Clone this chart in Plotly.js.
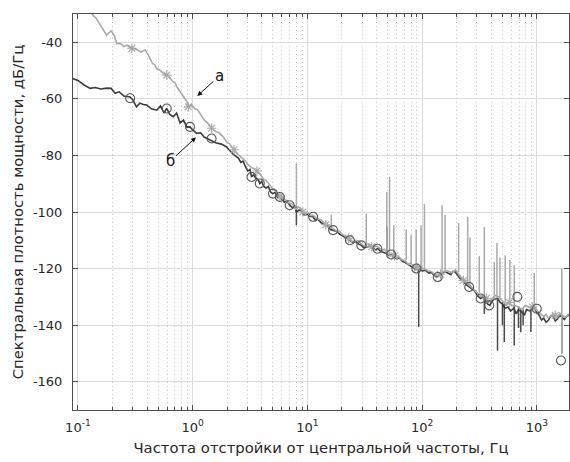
<!DOCTYPE html>
<html>
<head>
<meta charset="utf-8">
<script src="https://cdn.plot.ly/plotly-3.0.1.min.js"></script>
<style>html,body{margin:0;padding:0;background:#fff;}#chart{width:570px;height:462px;}</style>
</head>
<body>
<div id="chart"></div>
<script>
// ---- Data (frequency given as log10(Hz), level in dB/Hz) ----
// Curve "а" (light gray)
const logFreqA = [-1.0,-0.9,-0.876,-0.86,-0.84,-0.8,-0.777,-0.75,-0.734,-0.71,-0.69,-0.68,-0.66,-0.632,-0.6,-0.57,-0.55,-0.53,-0.49,-0.45,-0.415,-0.38,-0.35,-0.33,-0.313,-0.28,-0.25,-0.226,-0.2,-0.17,-0.155,-0.139,-0.11,-0.08,-0.05,-0.038,-0.01,0.02,0.04,0.063,0.1,0.13,0.165,0.2,0.23,0.266,0.3,0.32,0.34,0.383,
  0.40,0.42,0.44,0.46,0.48,0.50,0.52,0.55,0.57,0.585,0.60,0.62,0.64,0.66,0.68,0.70,0.72,0.75,0.77,0.80,0.82,0.85,0.87,0.90,0.92,0.936,0.96,0.98,1.00,1.02,1.05,1.07,1.09,1.12,1.15,1.17,1.19,1.224,1.24,1.26,1.28,1.30,1.33,1.35,1.37,1.40,1.42,1.44,1.47,1.50,1.52,1.54,1.57,1.59,1.615,1.65,1.67,1.69,1.72,1.75,1.77,1.80,1.82,1.85,1.88,1.90,1.917,1.95,1.97,1.99,2.03,2.05,2.08,2.10,2.12,2.15,2.19,2.22,2.24,2.26,2.29,2.31,2.33,2.35,2.37,2.39,2.41,2.44,2.46,2.48,2.51,2.53,2.55,2.58,2.61,2.64,2.67,2.70,2.73,2.76,2.78,2.80,2.84,2.87,2.90,2.94,2.98,3.00,3.02,3.06,3.08,3.10,3.14,3.16,3.18,3.20,3.22,3.25,3.28];
const levelA = [-24,-29,-30.2,-30.8,-31.5,-34,-35.5,-37.5,-36.8,-36,-37.2,-38,-40.5,-40.4,-41.5,-41,-41.8,-42.1,-42.5,-43.5,-42.7,-45,-47.5,-48,-49.2,-50,-51.2,-51.6,-52.5,-54,-54.2,-55.7,-57.5,-59.5,-61,-62.8,-62,-63.5,-63.8,-65.1,-67.5,-68.5,-70.4,-71.5,-72,-73.4,-75.5,-75.8,-77,-79.3,
  -79.8,-80.5,-81.5,-82.0,-83.2,-84.0,-84.5,-85.0,-86.2,-86.4,-87.5,-88.5,-88.8,-90.0,-91.2,-92.0,-92.5,-94.0,-94.2,-95.5,-96.3,-97.0,-97.2,-99.0,-98.2,-98.5,-99.8,-100.5,-100.0,-101.2,-101.2,-101.8,-102.5,-102.8,-104.2,-104.0,-105.0,-105.8,-106.5,-107.0,-106.8,-107.8,-108.5,-109.3,-109.5,-110.6,-110.0,-110.2,-111.3,-112.0,-111.2,-111.5,-112.4,-112.0,-112.3,-113.6,-113.2,-114.2,-115.5,-115.0,-115.8,-116.0,-116.8,-117.2,-118.5,-118.0,-118.8,-119.8,-119.2,-119.5,-120.2,-120.8,-121.0,-121.8,-122.5,-121.8,-121.0,-120.8,-121.2,-121.5,-120.5,-121.5,-122.5,-123.2,-124.5,-125.0,-125.8,-127.0,-127.5,-128.5,-129.8,-129.5,-130.5,-132.0,-130.5,-129.5,-130.0,-131.5,-132.8,-131.8,-133.2,-133.0,-133.6,-134.5,-133.0,-133.8,-133.5,-134.8,-135.5,-137.0,-136.2,-137.5,-136.0,-137.2,-137.0,-135.8,-136.5,-137.2,-136.0];
// Curve "б" (dark gray)
const logFreqB = [-1.05,-1.0,-0.95,-0.893,-0.85,-0.8,-0.75,-0.71,-0.676,-0.64,-0.6,-0.545,-0.52,-0.49,-0.46,-0.43,-0.4,-0.36,-0.313,-0.28,-0.25,-0.226,-0.2,-0.168,-0.14,-0.11,-0.08,-0.05,-0.023,0.0,0.035,0.07,0.1,0.15,0.2,0.25,0.296,0.35,
  0.40,0.42,0.44,0.46,0.48,0.50,0.513,0.53,0.55,0.57,0.585,0.60,0.62,0.64,0.66,0.68,0.70,0.72,0.74,0.76,0.78,0.80,0.82,0.846,0.87,0.89,0.904,0.93,0.95,0.97,1.00,1.02,1.05,1.07,1.09,1.12,1.14,1.17,1.20,1.224,1.25,1.28,1.30,1.33,1.35,1.37,1.40,1.42,1.44,1.47,1.49,1.52,1.55,1.57,1.59,1.615,1.64,1.66,1.69,1.71,1.73,1.75,1.78,1.80,1.83,1.85,1.88,1.90,1.917,1.94,1.97,2.00,2.03,2.06,2.08,2.11,2.13,2.15,2.18,2.20,2.22,2.25,2.27,2.29,2.31,2.33,2.35,2.38,2.41,2.43,2.46,2.48,2.51,2.53,2.55,2.57,2.59,2.61,2.63,2.66,2.68,2.70,2.72,2.75,2.77,2.80,2.82,2.84,2.87,2.89,2.91,2.94,2.96,2.98,3.00,3.02,3.04,3.06,3.08,3.10,3.12,3.14,3.16,3.18,3.20,3.22,3.24,3.26,3.28];
const levelB = [-52.7,-53.5,-55,-56.3,-56,-56.5,-56.2,-56.3,-58,-57.5,-59,-59.3,-60.5,-62.8,-61.5,-62,-62.2,-63.5,-64,-62.5,-65,-63.4,-65.5,-66.3,-65,-68.5,-67.5,-70,-69.9,-71,-72.2,-72,-73.5,-74.6,-75.5,-76,-77,-79.5,
  -81.0,-82.5,-82.0,-84.0,-85.5,-85.0,-87.6,-86.8,-88.0,-88.5,-89.9,-89.2,-91.0,-91.5,-91.0,-93.0,-93.5,-93.0,-94.8,-94.7,-95.5,-96.5,-96.0,-97.6,-98.5,-98.0,-100.0,-99.2,-99.8,-101.0,-100.8,-101.5,-101.7,-103.0,-102.5,-103.8,-104.2,-104.8,-106.2,-106.4,-106.8,-107.8,-108.4,-109.0,-109.2,-110.0,-110.8,-110.4,-111.2,-111.8,-112.6,-112.4,-111.9,-112.6,-113.4,-112.9,-114.0,-114.2,-114.7,-115.4,-115.0,-115.8,-116.6,-116.2,-117.5,-117.8,-118.6,-119.0,-119.4,-120.2,-120.0,-120.8,-120.6,-121.6,-121.4,-122.6,-123.0,-122.4,-121.8,-121.0,-121.5,-122.2,-121.0,-121.2,-122.5,-123.5,-124.0,-125.5,-126.5,-127.2,-128.0,-129.5,-130.6,-130.0,-131.2,-132.5,-133.0,-131.5,-130.8,-130.6,-132.0,-132.5,-134.0,-133.6,-135.0,-134.0,-136.0,-134.5,-135.4,-136.5,-134.5,-135.0,-133.8,-134.2,-135.5,-136.5,-138.2,-137.5,-139.0,-138.3,-136.8,-136.5,-138.5,-137.8,-136.5,-137.1,-138.0,-136.8,-136.5];
// Markers
const starLogFreq = [-0.53,-0.226,-0.038,0.165,0.36,0.56,0.76,0.96,1.16,1.36,1.56,1.76,1.96,2.16,2.36,2.56,2.76,2.96,3.16];
const starLevel = [-42.1,-51.6,-62.8,-70.4,-78,-85.5,-94.5,-100,-104.5,-109.3,-112.3,-115.5,-119.8,-122,-124.2,-130.5,-132,-133.6,-136.5];
const circleLogFreq = [-0.545,-0.226,-0.023,0.165,0.513,0.585,0.7,0.76,0.846,1.05,1.224,1.37,1.47,1.61,1.73,1.95,2.136,2.41,2.51,2.585,2.83,3.0,3.21];
const circleLevel = [-59.8,-63.4,-69.9,-74,-87.6,-89.9,-93.5,-94.7,-97.6,-101.7,-106.4,-110,-111.8,-113,-115,-120,-123,-126.5,-130.6,-133,-130,-134.2,-152.5];
// Narrow spurs (light, upward): log10 f, low and high level
const spurUpLogFreq = [0.904,1.209,1.513,1.692,1.716,1.753,1.861,1.904,1.948,1.991,2.02,2.174,2.2,2.318,2.397,2.417,2.498,2.542,2.629,2.652,2.678,2.724,2.765,2.803,2.977,3.217];
const spurUpLow  = [-98,-106,-112.5,-114.7,-114.8,-115.5,-117,-118.5,-119.5,-120,-120.3,-122,-121,-121.2,-125.5,-126,-128.5,-130,-131,-130.5,-130.5,-132,-132.5,-133,-134,-150];
const spurUpHigh = [-82.8,-101,-100.6,-92.9,-87.5,-104.7,-106.2,-108.2,-106.2,-104.7,-97.2,-97.6,-101.1,-103.8,-101.7,-109,-115.6,-105.3,-117.7,-111,-116.1,-115.3,-117,-118.8,-121.6,-120];
// Narrow spurs (dark, downward)
const spurDnLogFreq = [0.904,1.692,1.97,2.542,2.657,2.7,2.716,2.803,2.84,2.86,2.88,2.948,3.217];
const spurDnHigh = [-98,-105.3,-120,-130,-131,-132,-132.5,-133,-133.5,-134,-134.5,-134,-137];
const spurDnLow  = [-104.7,-114.7,-140.7,-136,-149,-140,-146,-147.2,-141,-142.5,-140,-142.4,-150];

const xTickVals = [0.1, 1, 10, 100, 1000];
const xTickText = ['10<sup>-1</sup>','10<sup>0</sup>','10<sup>1</sup>','10<sup>2</sup>','10<sup>3</sup>'];
const yTickVals = [-40,-60,-80,-100,-120,-140,-160];
const yTickText = ['-40','-60','-80','-100','-120','-140','-160'];

// ---- Build traces ----
const hz = v => Math.pow(10, v);
function spurXY(lf, a, b) {
  const x = [], y = [];
  for (let i = 0; i < lf.length; i++) { x.push(hz(lf[i]), hz(lf[i]), null); y.push(a[i], b[i], null); }
  return {x, y};
}
const up = spurXY(spurUpLogFreq, spurUpLow, spurUpHigh);
const dn = spurXY(spurDnLogFreq, spurDnHigh, spurDnLow);
const LIGHT = '#a9a9a9', DARK = '#3c3c3c';
const FONT = 'DejaVu Sans, Liberation Sans, Arial, sans-serif';

const traces = [
  {x: dn.x, y: dn.y, mode: 'lines', line: {color: '#4a4a4a', width: 1.5}, connectgaps: false, hoverinfo: 'skip'},
  {x: logFreqB.map(hz), y: levelB, mode: 'lines', line: {color: DARK, width: 1.6}},
  {x: up.x, y: up.y, mode: 'lines', line: {color: LIGHT, width: 1.5}, connectgaps: false, hoverinfo: 'skip'},
  {x: logFreqA.map(hz), y: levelA, mode: 'lines', line: {color: LIGHT, width: 1.6}},
  {x: starLogFreq.map(hz), y: starLevel, mode: 'markers', marker: {symbol: 'asterisk-open', size: 8, color: LIGHT, line: {color: LIGHT, width: 1.2}}},
  {x: circleLogFreq.map(hz), y: circleLevel, mode: 'markers', marker: {symbol: 'circle-open', size: 9, color: '#555', line: {color: '#555', width: 1.1}}}
];

const axisCommon = {
  showline: true, linecolor: '#4d4d4d', linewidth: 1, mirror: 'ticks',
  ticks: 'inside', ticklen: 5, tickcolor: '#4d4d4d',
  showgrid: true, gridcolor: '#dcdcdc', gridwidth: 1, zeroline: false,
  tickfont: {family: FONT, size: 13, color: '#262626'}
};

const layout = {
  width: 570, height: 462,
  margin: {l: 73, r: 1, t: 14, b: 52},
  paper_bgcolor: '#fff', plot_bgcolor: '#fff',
  showlegend: false,
  xaxis: Object.assign({}, axisCommon, {
    type: 'log', range: [-1.043, 3.28],
    tickmode: 'array', tickvals: xTickVals, ticktext: xTickText,
    ticklabelstandoff: 5,
    minor: {dtick: 'D1', ticks: 'inside', ticklen: 3, tickcolor: '#4d4d4d', showgrid: true, gridcolor: '#c4c4c4', griddash: '1px,3px', gridwidth: 1},
    title: {text: 'Частота отстройки от центральной частоты, Гц', font: {family: FONT, size: 14.8, color: '#262626'}, standoff: 9}
  }),
  yaxis: Object.assign({}, axisCommon, {
    range: [-170, -30],
    tickmode: 'array', tickvals: yTickVals, ticktext: yTickText,
    ticklabelstandoff: 7,
    title: {text: 'Спектральная плотность мощности, дБ/Гц', font: {family: FONT, size: 14.8, color: '#262626'}, standoff: 5}
  }),
  annotations: [
    {x: 0.04, y: -59, xref: 'x', yref: 'y', text: 'а', showarrow: true, arrowhead: 2, arrowsize: 1, arrowwidth: 1, arrowcolor: '#111', ax: 22, ay: -20, font: {family: FONT, size: 15, color: '#111'}},
    {x: 0.029, y: -73.6, xref: 'x', yref: 'y', text: 'б', showarrow: true, arrowhead: 2, arrowsize: 1, arrowwidth: 1, arrowcolor: '#111', ax: -26, ay: 24, font: {family: FONT, size: 15, color: '#111'}}
  ]
};

Plotly.newPlot('chart', traces, layout, {displayModeBar: false, staticPlot: true});
</script>
</body>
</html>
